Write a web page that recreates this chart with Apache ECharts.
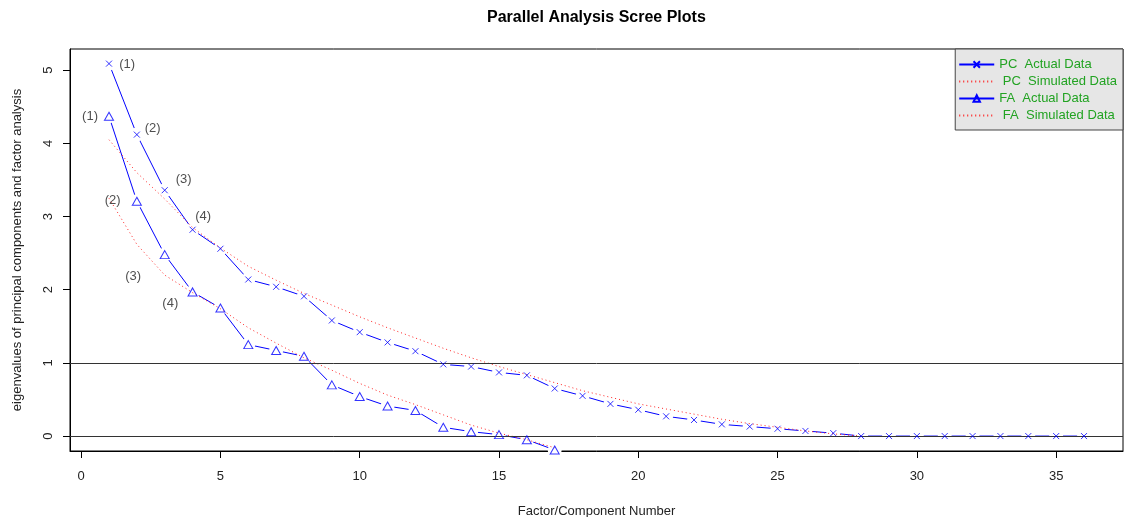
<!DOCTYPE html>
<html lang="en">
<head>
<meta charset="UTF-8">
<title>Parallel Analysis Scree Plots</title>
<script src="https://cdn.jsdelivr.net/npm/echarts@6/dist/echarts.min.js"></script>
<style>
    html, body { margin: 0; padding: 0; background: #fff; }
    #main { width: 1125px; height: 517px; }
</style>
</head>
<body>
<div id="main"></div>
<script>
// factor / component numbers
var componentNo = [1, 2, 3, 4, 5, 6, 7, 8, 9, 10, 11, 12, 13, 14, 15, 16, 17, 18,
                   19, 20, 21, 22, 23, 24, 25, 26, 27, 28, 29, 30, 31, 32, 33, 34, 35, 36];

// eigenvalues
var pcActual = [5.09, 4.12, 3.36, 2.82, 2.56, 2.14, 2.04, 1.91, 1.58, 1.42, 1.28, 1.16,
                0.98, 0.95, 0.87, 0.83, 0.65, 0.55, 0.44, 0.36, 0.27, 0.22, 0.16, 0.13,
                0.10, 0.07, 0.04, 0, 0, 0, 0, 0, 0, 0, 0, 0];
var pcSimulated = [4.05, 3.60, 3.24, 2.85, 2.57, 2.32, 2.13, 1.95, 1.79, 1.63, 1.48, 1.34,
                   1.20, 1.07, 0.95, 0.84, 0.73, 0.62, 0.53, 0.44, 0.37, 0.30, 0.23, 0.17,
                   0.12, 0.07, 0.03, 0];
var faActual = [4.37, 3.21, 2.48, 1.97, 1.75, 1.25, 1.17, 1.09, 0.70, 0.54, 0.41, 0.35,
                0.12, 0.06, 0.02, -0.05, -0.19];
var faSimulated = [3.25, 2.62, 2.20, 1.96, 1.74, 1.48, 1.27, 1.07, 0.90, 0.72, 0.56, 0.43,
                   0.29, 0.15, 0.04, -0.05, -0.16];

// "(n)" annotations
var labelText = ['(1)', '(2)', '(3)', '(4)'];
var pcLabelX = [1.65, 2.57, 3.68, 4.38];
var pcLabelY = [5.08, 4.20, 3.51, 3.00];
var faLabelX = [0.32, 1.13, 1.87, 3.20];
var faLabelY = [4.37, 3.22, 2.18, 1.81];

var xTicks = [0, 5, 10, 15, 20, 25, 30, 35];
var yTicks = [0, 1, 2, 3, 4, 5];

var FONT = "'Liberation Sans', Arial, sans-serif";
var BLUE = '#0000ff';
var RED = '#ff2020';
var NONE = 'rgba(0,0,0,0)';
var X_SYMBOL = 'path://M0,0L10,10M10,0L0,10';

function pairs(values) {
    var d = [];
    for (var i = 0; i < values.length; i++) {
        d.push([componentNo[i], values[i]]);
    }
    return d;
}

function labelPairs(xs, ys) {
    var d = [];
    for (var i = 0; i < xs.length; i++) {
        d.push([xs[i], ys[i], labelText[i]]);
    }
    return d;
}

var myChart = echarts.init(document.getElementById('main'));

var option = {
    animation: false,
    title: {
        text: 'Parallel Analysis Scree Plots',
        left: 487,
        top: 10,
        padding: 0,
        textStyle: { fontFamily: FONT, fontSize: 16, fontWeight: 'bold', color: '#000' }
    },
    legend: {
        orient: 'vertical',
        right: 2,
        top: 49,
        padding: [9, 6, 8, 3],
        itemWidth: 35,
        itemHeight: 8,
        itemGap: 4,
        backgroundColor: '#e6e6e6',
        borderColor: '#444',
        borderWidth: 1,
        borderRadius: 0,
        textStyle: { fontFamily: FONT, fontSize: 13, color: '#22a322', lineHeight: 13 },
        data: ['PC  Actual Data', ' PC  Simulated Data', 'FA  Actual Data', ' FA  Simulated Data']
    },
    grid: {
        left: 70,
        right: 2,
        top: 49,
        bottom: 66,
        show: true,
        borderColor: '#000',
        borderWidth: 1,
        outerBoundsMode: 'none'
    },
    xAxis: {
        type: 'value',
        min: -0.4,
        max: 37.4,
        name: 'Factor/Component Number',
        nameLocation: 'middle',
        nameGap: 54,
        nameTextStyle: { fontFamily: FONT, fontSize: 13, color: '#222' },
        axisLine: { show: true, onZero: false, lineStyle: { color: '#000', width: 1 } },
        splitLine: { show: false },
        axisTick: { show: true, inside: false, length: 7, customValues: xTicks, lineStyle: { color: '#000', width: 1 } },
        axisLabel: { customValues: xTicks, margin: 19, fontFamily: FONT, fontSize: 13, color: '#222' }
    },
    yAxis: {
        type: 'value',
        min: -0.204,
        max: 5.29,
        name: 'eigenvalues of principal components and factor analysis',
        nameLocation: 'middle',
        nameGap: 46,
        nameTextStyle: { fontFamily: FONT, fontSize: 13, color: '#222' },
        axisLine: { show: true, onZero: false, lineStyle: { color: '#000', width: 1 } },
        splitLine: { show: false },
        axisTick: { show: true, inside: false, length: 7, customValues: yTicks, lineStyle: { color: '#000', width: 1 } },
        axisLabel: { customValues: yTicks, rotate: 90, margin: 15, fontFamily: FONT, fontSize: 13, color: '#222' }
    },
    series: [
        {
            name: 'PC  Actual Data',
            type: 'line',
            z: 2,
            data: pairs(pcActual),
            symbol: X_SYMBOL,
            symbolSize: 6,
            itemStyle: { color: NONE, borderColor: BLUE, borderWidth: 1 },
            lineStyle: { color: BLUE, width: 1 }
        },
        {
            name: 'FA  Actual Data',
            type: 'line',
            z: 2,
            data: pairs(faActual),
            symbol: 'triangle',
            symbolSize: [9, 8],
            itemStyle: { color: NONE, borderColor: BLUE, borderWidth: 1 },
            lineStyle: { color: BLUE, width: 1 }
        },
        {
            // gaps round the points, as in R type = "b"
            type: 'scatter',
            z: 3,
            silent: true,
            symbol: 'circle',
            symbolSize: 14,
            itemStyle: { color: '#ffffff', opacity: 1 },
            data: pairs(pcActual).concat(pairs(faActual))
        },
        {
            name: ' PC  Simulated Data',
            type: 'line',
            z: 4,
            data: pairs(pcSimulated),
            symbol: 'none',
            itemStyle: { color: NONE },
            lineStyle: { color: RED, width: 1, type: [1, 3] }
        },
        {
            name: ' FA  Simulated Data',
            type: 'line',
            z: 4,
            data: pairs(faSimulated),
            symbol: 'none',
            itemStyle: { color: NONE },
            lineStyle: { color: RED, width: 1, type: [1, 3] }
        },
        {
            type: 'line',
            z: 5,
            data: [],
            markLine: {
                silent: true,
                symbol: 'none',
                label: { show: false },
                lineStyle: { color: '#333', width: 1, type: 'solid' },
                data: [{ yAxis: 1 }, { yAxis: 0 }]
            }
        },
        {
            type: 'scatter',
            z: 6,
            symbol: X_SYMBOL,
            symbolSize: 6,
            itemStyle: { color: NONE, borderColor: BLUE, borderWidth: 1 },
            data: pairs(pcActual)
        },
        {
            type: 'scatter',
            z: 6,
            symbol: 'triangle',
            symbolSize: [9, 8],
            itemStyle: { color: NONE, borderColor: BLUE, borderWidth: 1 },
            data: pairs(faActual)
        },
        {
            type: 'scatter',
            z: 7,
            symbolSize: 1,
            itemStyle: { color: NONE },
            label: {
                show: true,
                position: 'inside',
                fontFamily: FONT,
                fontSize: 13,
                color: '#222',
                formatter: function (p) { return p.value[2]; }
            },
            data: labelPairs(pcLabelX, pcLabelY).concat(labelPairs(faLabelX, faLabelY))
        }
    ]
};

myChart.setOption(option);
</script>
</body>
</html>
